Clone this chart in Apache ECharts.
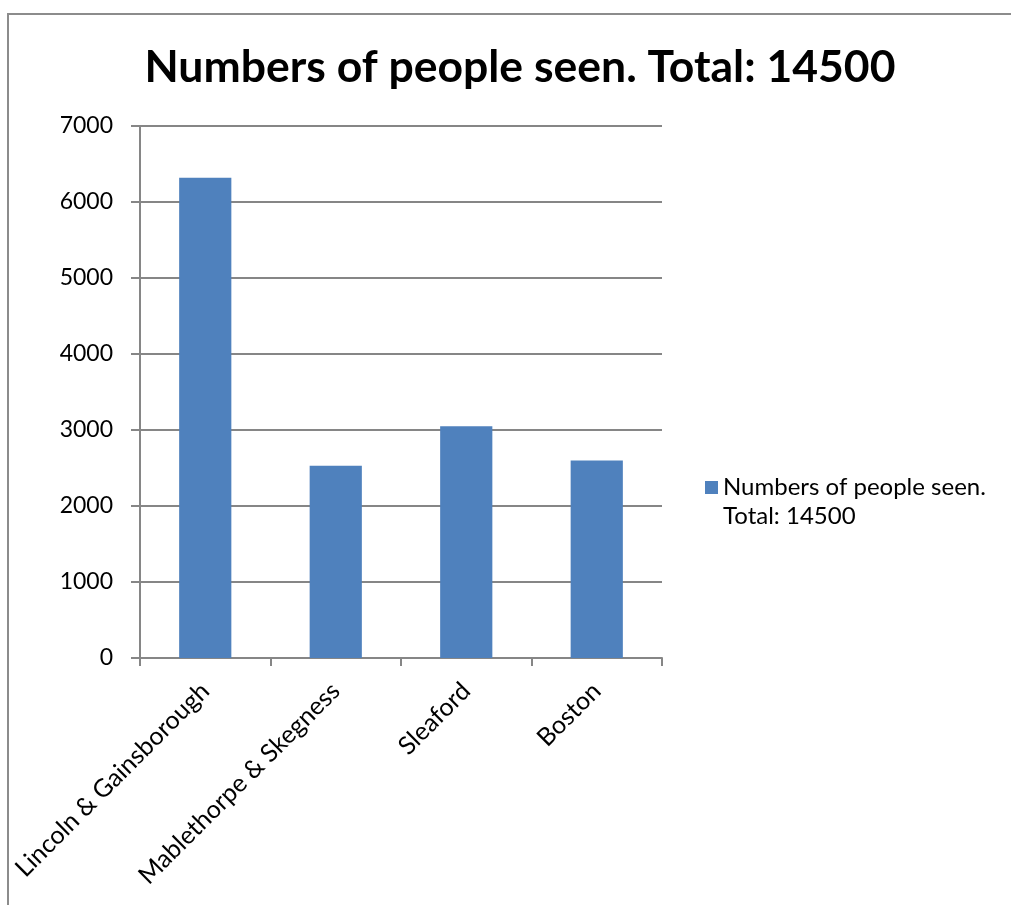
<!DOCTYPE html>
<html>
<head>
<meta charset="utf-8">
<script src="https://cdn.jsdelivr.net/npm/echarts@6/dist/echarts.min.js"></script>
<style>
html,body{margin:0;padding:0;background:#fff;}
#frame{position:absolute;left:7px;top:13px;width:1010px;height:900px;border:2px solid #8c8c8c;box-sizing:border-box;}
#c{position:absolute;left:0;top:0;width:1011px;height:905px;}
</style>
</head>
<body>
<div id="frame"></div>
<div id="c"></div>
<script>
const categories = ["Lincoln & Gainsborough", "Mablethorpe & Skegness", "Sleaford", "Boston"];
const values = [6320, 2530, 3050, 2600];
const seriesName = "Numbers of people seen. Total: 14500";
const legendLabel = "Numbers of people seen.\nTotal: 14500";
const titleText = "Numbers of people seen. Total: 14500";

const chart = echarts.init(document.getElementById('c'), null, {renderer: 'canvas'});
const font = 'Lato';
chart.setOption({
  animation: false,
  backgroundColor: 'transparent',
  title: {
    text: titleText,
    left: 515, top: 40, textAlign: 'center',
    textStyle: {fontFamily: font, fontWeight: 'bold', fontSize: 44.5, color: '#000'}
  },
  legend: {
    left: 705, top: 473, padding: 0, orient: 'vertical',
    itemWidth: 13, itemHeight: 42, itemGap: 4,
    icon: 'path://M0,0h13v13h-13z M0,42h0.01v0.01h-0.01z',
    formatter: () => legendLabel,
    textStyle: {fontFamily: font, fontSize: 24, color: '#000', lineHeight: 29},
    data: [seriesName]
  },
  grid: {left: 140, right: 349, top: 126, bottom: 247, containLabel: false},
  xAxis: {
    type: 'category',
    data: categories,
    axisLine: {lineStyle: {color: '#868686', width: 2}},
    axisTick: {show: true, length: 8, lineStyle: {color: '#868686', width: 2}},
    axisLabel: {rotate: 45, fontFamily: font, fontSize: 25, color: '#000', margin: 29, interval: 0}
  },
  yAxis: {
    type: 'value', min: 0, max: 7000, interval: 1000,
    axisLine: {show: true, lineStyle: {color: '#868686', width: 2}},
    axisTick: {show: true, length: 9, lineStyle: {color: '#868686', width: 2}},
    splitLine: {lineStyle: {color: '#868686', width: 2}},
    axisLabel: {fontFamily: font, fontSize: 23, color: '#000', margin: 27, formatter: v => String(v)}
  },
  series: [{
    name: seriesName,
    type: 'bar',
    data: values,
    barWidth: '40%',
    itemStyle: {color: '#4f81bd'}
  }]
});
</script>
</body>
</html>
